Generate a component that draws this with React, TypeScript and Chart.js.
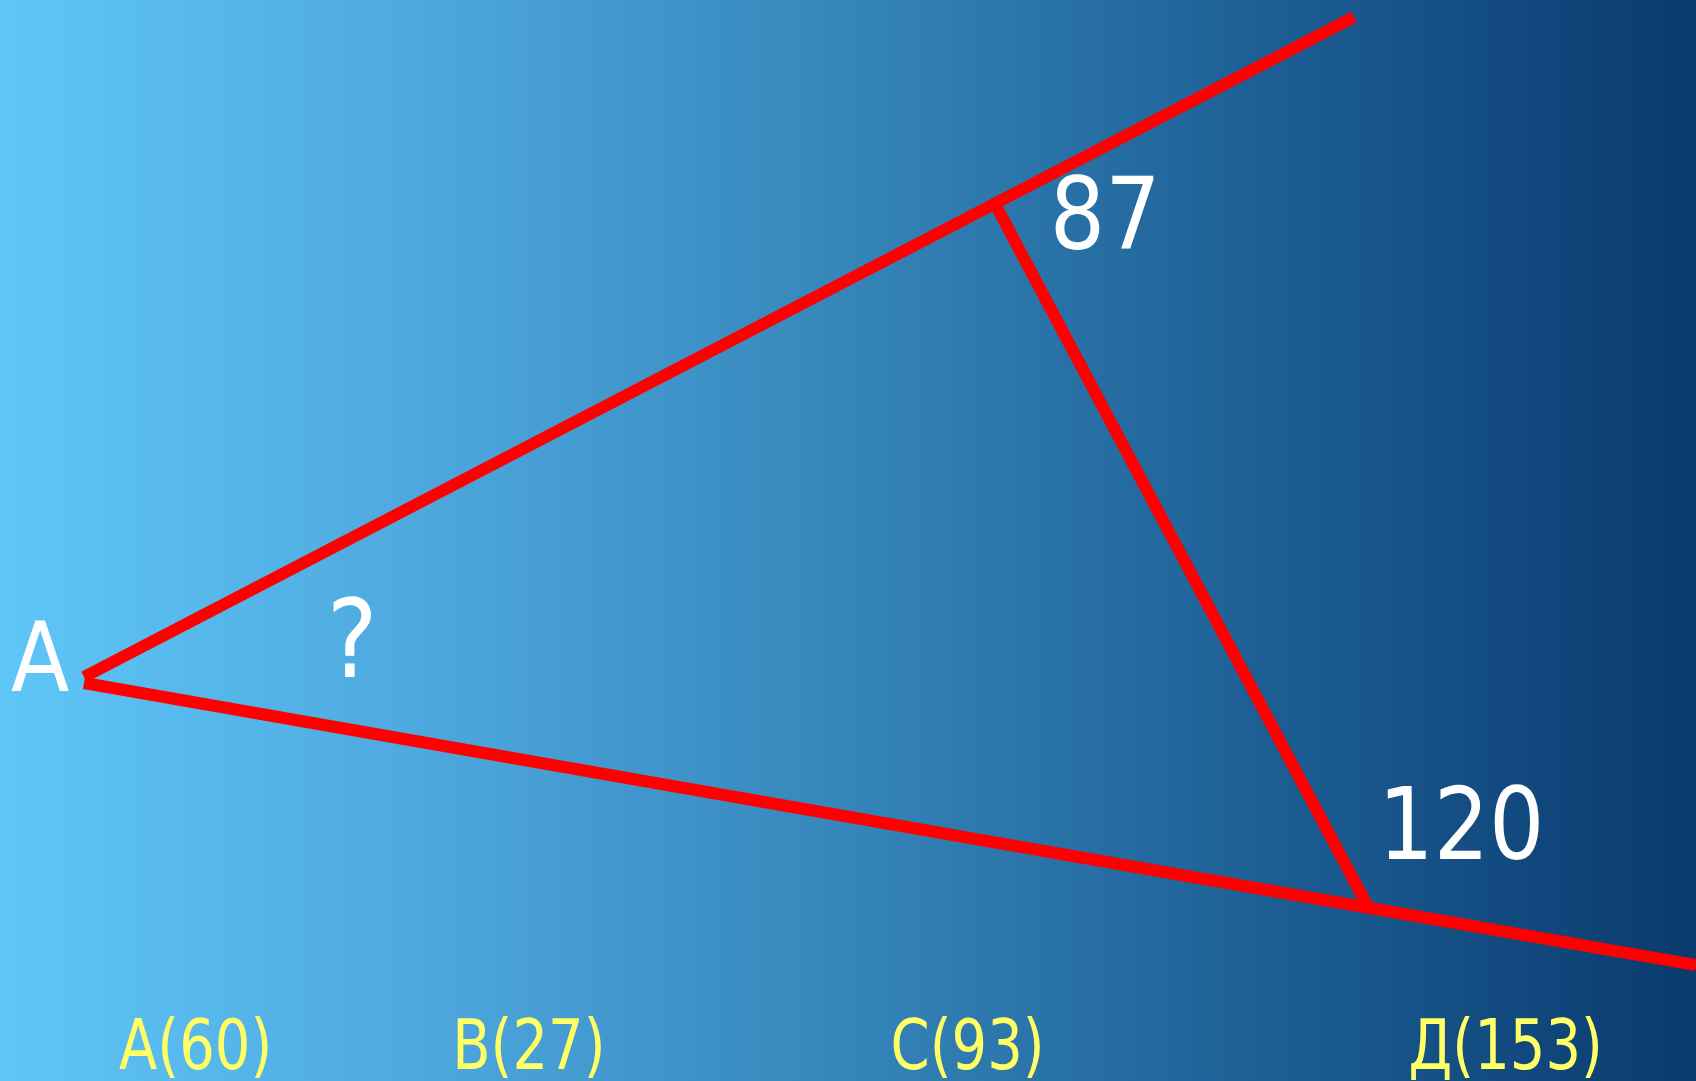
import React, { useEffect, useRef } from "react";
import { Chart, registerables } from "chart.js";

Chart.register(...registerables);

// Geometry of the figure (in the figure's own coordinate system, y grows downward)
const vertexA = { x: 84, y: 680 };
const upperRayEnd = { x: 1354, y: 17 };
const lowerRayEnd = { x: 1696, y: 965 };
const vertexB = { x: 993, y: 200 };
const vertexC = { x: 1368, y: 907 };

// Angle labels
const angleTexts = ["А", "?", "87", "120"];
const angleAnchorsX = [11, 333, 1055, 1387];
const angleAnchorsY = [691, 677, 249, 859];
const angleSizes = [97, 109, 99, 99];

// Answer options
const optionLetters = ["А", "В", "С", "Д"];
const optionValues = [60, 27, 93, 153];
const optionAnchorsX = [119, 457, 893, 1411];
const optionBaseline = 1069;

const W = 1696;
const H = 1081;

type Lbl = { text: string; x: number; y: number; size: number; color: string; sx: number };

const labelPlugin = {
  id: "labels",
  beforeDraw(chart: any) {
    const { ctx, chartArea } = chart;
    const g = ctx.createLinearGradient(chartArea.left, 0, chartArea.right, 0);
    g.addColorStop(0, "#5FC6F8");
    g.addColorStop(0.25, "#4DA8DE");
    g.addColorStop(0.5, "#3585BA");
    g.addColorStop(0.75, "#1C5E94");
    g.addColorStop(1, "#0A3A6E");
    ctx.save();
    ctx.fillStyle = g;
    ctx.fillRect(chartArea.left, chartArea.top, chartArea.right - chartArea.left, chartArea.bottom - chartArea.top);
    ctx.restore();
  },
  afterDatasetsDraw(chart: any) {
    const { ctx } = chart;
    const xs = chart.scales.x;
    const ys = chart.scales.y;
    const labels: Lbl[] = [];
    angleTexts.forEach((t, i) =>
      labels.push({ text: t, x: angleAnchorsX[i], y: angleAnchorsY[i], size: angleSizes[i], color: "#FFFFFF", sx: 0.88 })
    );
    optionLetters.forEach((l, i) =>
      labels.push({ text: `${l}(${optionValues[i]})`, x: optionAnchorsX[i], y: optionBaseline, size: 70, color: "#FFFF66", sx: 0.8 })
    );
    ctx.save();
    ctx.textBaseline = "alphabetic";
    ctx.textAlign = "left";
    for (const l of labels) {
      ctx.font = `${l.size}px "DejaVu Sans"`;
      const m = ctx.measureText(l.text);
      const px = xs.getPixelForValue(l.x);
      const py = ys.getPixelForValue(l.y);
      ctx.save();
      ctx.translate(px + m.actualBoundingBoxLeft * l.sx, py);
      ctx.scale(l.sx, 1);
      ctx.fillStyle = l.color;
      ctx.fillText(l.text, 0, 0);
      ctx.restore();
    }
    ctx.restore();
  },
};

export default function App() {
  const ref = useRef<HTMLCanvasElement | null>(null);
  useEffect(() => {
    document.body.style.margin = "0";
    const canvas = ref.current!;
    const lineStyle = {
      borderColor: "#FF0000",
      borderWidth: 12,
      borderCapStyle: "butt" as const,
      pointRadius: 0,
      showLine: true,
      fill: false,
      clip: false as any,
    };
    const chart = new Chart(canvas, {
      type: "scatter",
      data: {
        datasets: [
          { ...lineStyle, data: [{ x: vertexA.x, y: vertexA.y - 3 }, upperRayEnd] },
          { ...lineStyle, data: [{ x: vertexA.x, y: vertexA.y + 3 }, lowerRayEnd] },
          { ...lineStyle, data: [vertexB, vertexC] },
        ],
      },
      options: {
        animation: false,
        responsive: false,
        devicePixelRatio: 1,
        layout: { padding: 0 },
        plugins: { legend: { display: false }, tooltip: { enabled: false } },
        scales: {
          x: { type: "linear", min: 0, max: W, display: false },
          y: { type: "linear", min: 0, max: H, reverse: true, display: false },
        },
      },
      plugins: [labelPlugin],
    });
    return () => chart.destroy();
  }, []);
  return (
    <div style={{ position: "absolute", left: 0, top: 0, width: W, height: H }}>
      <canvas ref={ref} width={W} height={H} style={{ display: "block", width: W, height: H }} />
    </div>
  );
}
